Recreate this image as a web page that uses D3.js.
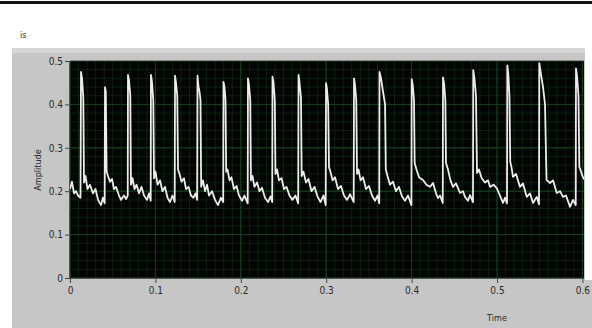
<!DOCTYPE html>
<html>
<head>
<meta charset="utf-8">
<script src="https://cdn.jsdelivr.net/npm/d3@7"></script>
<style>
  body { margin: 0; background: #fff; }
  svg { display: block; font-family: "DejaVu Sans Condensed", "DejaVu Sans", sans-serif; }
</style>
</head>
<body>
<svg width="592" height="328"></svg>
<script>
// waveform samples (seconds, amplitude)
const time = [
  0, 0.0023, 0.0047, 0.0070, 0.0094, 0.0123,
  0.0129, 0.0141, 0.0156, 0.0164, 0.0181, 0.0205, 0.0234, 0.0269, 0.0299, 0.0328, 0.0363, 0.0386, 0.0406,
  0.0410, 0.0419, 0.0429, 0.0445, 0.0468, 0.0492, 0.0515, 0.0539, 0.0574, 0.0597, 0.0632, 0.0656, 0.0676,
  0.0679, 0.0691, 0.0706, 0.0714, 0.0732, 0.0755, 0.0779, 0.0808, 0.0837, 0.0867, 0.0902, 0.0925, 0.0945,
  0.0948, 0.0960, 0.0975, 0.0984, 0.1001, 0.1025, 0.1054, 0.1083, 0.1112, 0.1142, 0.1171, 0.1200, 0.1226,
  0.1230, 0.1241, 0.1256, 0.1265, 0.1282, 0.1306, 0.1335, 0.1358, 0.1388, 0.1417, 0.1446, 0.1469, 0.1489,
  0.1493, 0.1505, 0.1516, 0.1528, 0.1536, 0.1557, 0.1581, 0.1604, 0.1628, 0.1663, 0.1698, 0.1733, 0.1768, 0.1794,
  0.1797, 0.1809, 0.1821, 0.1829, 0.1844, 0.1868, 0.1891, 0.1920, 0.1950, 0.1979, 0.2014, 0.2043, 0.2081,
  0.2084, 0.2096, 0.2111, 0.2119, 0.2137, 0.2160, 0.2190, 0.2219, 0.2248, 0.2283, 0.2319, 0.2348, 0.2368,
  0.2371, 0.2383, 0.2398, 0.2406, 0.2424, 0.2447, 0.2477, 0.2506, 0.2535, 0.2570, 0.2605, 0.2640, 0.2672,
  0.2676, 0.2687, 0.2705, 0.2713, 0.2734, 0.2763, 0.2793, 0.2828, 0.2863, 0.2898, 0.2933, 0.2968, 0.2994,
  0.2998, 0.3009, 0.3023, 0.3033, 0.3050, 0.3074, 0.3103, 0.3138, 0.3173, 0.3208, 0.3244, 0.3279, 0.3322,
  0.3326, 0.3337, 0.3352, 0.3361, 0.3378, 0.3402, 0.3431, 0.3466, 0.3501, 0.3536, 0.3571, 0.3601, 0.3621,
  0.3624, 0.3642, 0.3665, 0.3689, 0.3698, 0.3718, 0.3747, 0.3782, 0.3817, 0.3852, 0.3888, 0.3923, 0.3958, 0.3998,
  0.4001, 0.4013, 0.4028, 0.4036, 0.4057, 0.4087, 0.4133, 0.4174, 0.4215, 0.4251, 0.4286, 0.4309, 0.4333, 0.4365,
  0.4368, 0.4380, 0.4395, 0.4403, 0.4426, 0.4455, 0.4485, 0.4520, 0.4567, 0.4602, 0.4625, 0.4660, 0.4684, 0.4719,
  0.4722, 0.4736, 0.4754, 0.4766, 0.4789, 0.4821, 0.4859, 0.4895, 0.4918, 0.4959, 0.4997, 0.5035, 0.5070, 0.5094, 0.5117,
  0.5121, 0.5132, 0.5146, 0.5155, 0.5170, 0.5187, 0.5222, 0.5269, 0.5304, 0.5348, 0.5386, 0.5422, 0.5465, 0.5492,
  0.5495, 0.5515, 0.5539, 0.5562, 0.5580, 0.5621, 0.5656, 0.5699, 0.5738, 0.5773, 0.5808, 0.5855, 0.5890, 0.5922,
  0.5925, 0.5937, 0.5954, 0.5964, 0.5984, 0.6007, 0.6030
]
const amplitude = [
  0.205, 0.222, 0.195, 0.2, 0.19, 0.185,
  0.475, 0.46, 0.414, 0.22, 0.235, 0.205, 0.215, 0.195, 0.205, 0.18, 0.168, 0.185, 0.172,
  0.44, 0.43, 0.245, 0.235, 0.222, 0.228, 0.205, 0.21, 0.19, 0.18, 0.19, 0.182, 0.19,
  0.468, 0.455, 0.42, 0.215, 0.23, 0.205, 0.215, 0.195, 0.21, 0.19, 0.18, 0.195, 0.178,
  0.468, 0.452, 0.41, 0.23, 0.245, 0.215, 0.225, 0.2, 0.21, 0.185, 0.175, 0.19, 0.175,
  0.466, 0.45, 0.42, 0.25, 0.24, 0.222, 0.23, 0.205, 0.21, 0.19, 0.185, 0.195, 0.18,
  0.466, 0.44, 0.43, 0.41, 0.21, 0.225, 0.2, 0.215, 0.19, 0.2, 0.18, 0.168, 0.185, 0.175,
  0.452, 0.44, 0.41, 0.245, 0.25, 0.225, 0.232, 0.205, 0.212, 0.19, 0.178, 0.19, 0.172,
  0.46, 0.445, 0.41, 0.225, 0.235, 0.21, 0.22, 0.2, 0.208, 0.185, 0.175, 0.188, 0.175,
  0.464, 0.45, 0.41, 0.24, 0.25, 0.225, 0.23, 0.205, 0.21, 0.19, 0.18, 0.19, 0.172,
  0.468, 0.45, 0.415, 0.235, 0.245, 0.22, 0.228, 0.2, 0.21, 0.188, 0.175, 0.19, 0.168,
  0.449, 0.435, 0.4, 0.255, 0.245, 0.225, 0.232, 0.205, 0.212, 0.19, 0.18, 0.193, 0.175,
  0.46, 0.445, 0.41, 0.24, 0.25, 0.225, 0.232, 0.205, 0.212, 0.19, 0.178, 0.19, 0.172,
  0.475, 0.46, 0.43, 0.4, 0.25, 0.235, 0.215, 0.222, 0.2, 0.21, 0.188, 0.178, 0.19, 0.168,
  0.458, 0.445, 0.41, 0.265, 0.25, 0.232, 0.226, 0.215, 0.21, 0.219, 0.195, 0.184, 0.19, 0.173,
  0.462, 0.447, 0.41, 0.265, 0.25, 0.225, 0.21, 0.218, 0.196, 0.2, 0.187, 0.178, 0.191, 0.175,
  0.479, 0.46, 0.42, 0.242, 0.25, 0.23, 0.22, 0.225, 0.21, 0.215, 0.207, 0.19, 0.173, 0.185, 0.172,
  0.49, 0.47, 0.42, 0.268, 0.255, 0.233, 0.24, 0.21, 0.218, 0.187, 0.195, 0.173, 0.187, 0.17,
  0.495, 0.47, 0.44, 0.4, 0.226, 0.219, 0.225, 0.196, 0.2, 0.187, 0.19, 0.164, 0.18, 0.168,
  0.483, 0.465, 0.42, 0.256, 0.245, 0.232, 0.225
]
const xTicks = [0, 0.1, 0.2, 0.3, 0.4, 0.5, 0.6]
const yTicks = [0, 0.1, 0.2, 0.3, 0.4, 0.5]

const svg = d3.select("svg")
const plot = { left: 70, top: 61, right: 584, bottom: 278 }

const x = d3.scaleLinear().domain([0, 0.6]).range([plot.left, 582.4])
const y = d3.scaleLinear().domain([0, 0.5]).range([plot.bottom, plot.top])

// soft blur, the screenshot is a scaled jpeg
const defs = svg.append("defs")
defs.append("filter").attr("id", "soft")
  .append("feGaussianBlur").attr("stdDeviation", 0.45)

// top rule and caption
svg.append("rect").attr("x", 0).attr("y", 1).attr("width", 592).attr("height", 3).attr("fill", "#111")
svg.append("text").attr("x", 20).attr("y", 38).attr("font-size", 9).attr("fill", "#333").text("is")

// grey panel
svg.append("rect").attr("x", 12).attr("y", 48).attr("width", 580).attr("height", 280).attr("fill", "#c6c6c6")
svg.append("rect").attr("x", 12).attr("y", 48).attr("width", 580).attr("height", 5).attr("fill", "#d6d6d6")
svg.append("rect").attr("x", 585).attr("y", 48).attr("width", 7).attr("height", 232).attr("fill", "#fff")

// plot background
svg.append("rect")
  .attr("x", plot.left).attr("y", plot.top)
  .attr("width", plot.right - plot.left).attr("height", plot.bottom - plot.top)
  .attr("fill", "#010401")

defs.append("clipPath").attr("id", "clip")
  .append("rect")
  .attr("x", plot.left).attr("y", plot.top)
  .attr("width", plot.right - plot.left).attr("height", plot.bottom - plot.top)

const grid = svg.append("g").attr("clip-path", "url(#clip)")

// minor grid
grid.selectAll(".vx").data(d3.range(0, 0.61, 0.01)).enter().append("line")
  .attr("x1", d => x(d)).attr("x2", d => x(d))
  .attr("y1", plot.top).attr("y2", plot.bottom)
  .attr("stroke", "#0b2211").attr("stroke-width", 1)
grid.selectAll(".hy").data(d3.range(0, 0.5, 0.02)).enter().append("line")
  .attr("y1", d => y(d)).attr("y2", d => y(d))
  .attr("x1", plot.left).attr("x2", plot.right)
  .attr("stroke", "#0b2211").attr("stroke-width", 1)

// major grid
grid.selectAll(".mx").data(xTicks).enter().append("line")
  .attr("x1", d => x(d)).attr("x2", d => x(d))
  .attr("y1", plot.top).attr("y2", plot.bottom)
  .attr("stroke", "#17401e").attr("stroke-width", 1)
grid.selectAll(".my").data(yTicks).enter().append("line")
  .attr("y1", d => y(d)).attr("y2", d => y(d))
  .attr("x1", plot.left).attr("x2", plot.right)
  .attr("stroke", "#17401e").attr("stroke-width", 1)

// waveform
const line = d3.line().x(d => x(d[0])).y(d => y(d[1]))
grid.append("path")
  .datum(d3.zip(time, amplitude))
  .attr("d", line)
  .attr("fill", "none")
  .attr("stroke", "#ececec")
  .attr("stroke-width", 1.8)
  .attr("stroke-linejoin", "round")
  .attr("filter", "url(#soft)")

// axes
const xAxis = svg.append("g")
  .attr("transform", "translate(0," + plot.bottom + ")")
  .call(d3.axisBottom(x).tickValues(xTicks).tickFormat(d3.format("")).tickSize(5).tickPadding(4))
const yAxis = svg.append("g")
  .attr("transform", "translate(" + plot.left + ",0)")
  .call(d3.axisLeft(y).tickValues(yTicks).tickFormat(d3.format("")).tickSize(5).tickPadding(2))

;[xAxis, yAxis].forEach(a => {
  a.select(".domain").remove()
  a.selectAll("line").attr("stroke", "#444")
  a.selectAll("text").attr("fill", "#2a2a2a").attr("font-size", 10)
    .attr("font-family", "DejaVu Sans Condensed, DejaVu Sans, sans-serif")
})

svg.append("line").attr("x1", plot.left).attr("x2", plot.right)
  .attr("y1", plot.top - 0.5).attr("y2", plot.top - 0.5).attr("stroke", "#888")
svg.append("line").attr("x1", plot.left).attr("x2", plot.right)
  .attr("y1", plot.bottom + 0.5).attr("y2", plot.bottom + 0.5).attr("stroke", "#555")
svg.append("line").attr("x1", plot.left - 0.5).attr("x2", plot.left - 0.5)
  .attr("y1", plot.top).attr("y2", plot.bottom).attr("stroke", "#555")

svg.append("text").attr("x", 497).attr("y", 321).attr("text-anchor", "middle")
  .attr("font-size", 9).attr("fill", "#2a2a2a").text("Time")
svg.append("text").attr("transform", "translate(41,170) rotate(-90)").attr("text-anchor", "middle")
  .attr("font-size", 9).attr("fill", "#2a2a2a").text("Amplitude")
</script>
</body>
</html>
